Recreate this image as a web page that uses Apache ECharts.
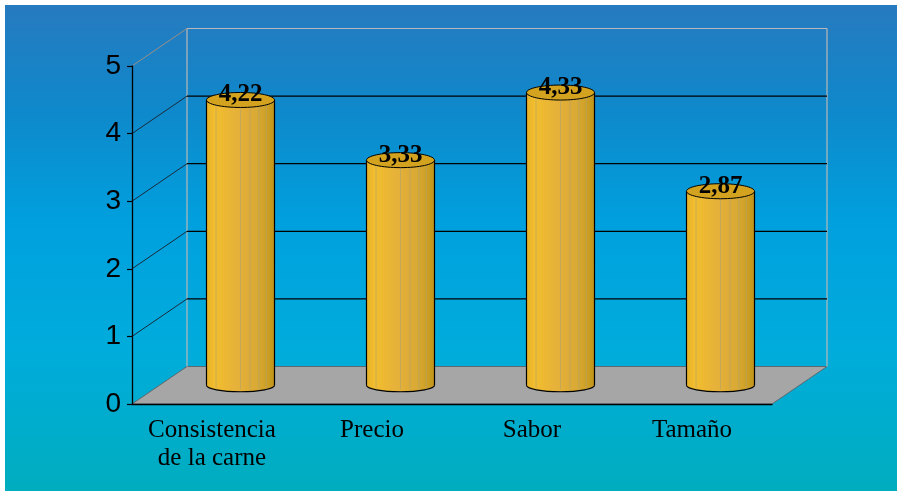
<!DOCTYPE html>
<html>
<head>
<meta charset="utf-8">
<script src="https://cdn.jsdelivr.net/npm/echarts@6/dist/echarts.min.js"></script>
<style>
  html, body { margin: 0; padding: 0; background: #ffffff; }
  #chart { width: 897px; height: 491px; }
</style>
</head>
<body>
<div id="chart"></div>
<script>
// Puntuaciones medias por atributo
const categories = ['Consistencia\nde la carne', 'Precio', 'Sabor', 'Tamaño'];
const scores = [4.22, 3.33, 4.33, 2.87];
const yTicks = [0, 1, 2, 3, 4, 5];

// Pseudo-3D depth of the plot box (screen offset from front plane to back wall)
const DEPTH_X = 55;
const DEPTH_Y = -37.5;

const chart = echarts.init(document.getElementById('chart'));

function fmt(v) {
  return v.toFixed(2).replace('.', ',');
}

// Back wall, floor and receding gridlines
function renderFrame(params, api) {
  const cs = params.coordSys;
  const v = api.value(1);
  const y = api.coord([0, v])[1];
  const left = cs.x;
  const right = cs.x + cs.width;
  const children = [];
  if (v === yTicks[0]) {
    const yTop = api.coord([0, yTicks[yTicks.length - 1]])[1];
    children.push({
      type: 'polygon',
      shape: { points: [[left, y], [left + DEPTH_X, y + DEPTH_Y], [right + DEPTH_X, y + DEPTH_Y], [right, y]] },
      style: { fill: '#a6a6a6', stroke: '#5e6a70', lineWidth: 1 }
    });
    children.push({
      type: 'line',
      shape: { x1: left + DEPTH_X, y1: y + DEPTH_Y, x2: left + DEPTH_X, y2: yTop + DEPTH_Y },
      style: { stroke: '#b9b9b9', lineWidth: 1.2 }
    });
    children.push({
      type: 'line',
      shape: { x1: right + DEPTH_X, y1: y + DEPTH_Y, x2: right + DEPTH_X, y2: yTop + DEPTH_Y },
      style: { stroke: '#b9b9b9', lineWidth: 1.2 }
    });
  } else {
    const isTop = v === yTicks[yTicks.length - 1];
    children.push({
      type: 'line',
      shape: { x1: left, y1: y, x2: left + DEPTH_X, y2: y + DEPTH_Y },
      style: { stroke: isTop ? '#9a8f86' : '#1a2a3a', lineWidth: 1 }
    });
    children.push({
      type: 'line',
      shape: { x1: left + DEPTH_X, y1: y + DEPTH_Y, x2: right + DEPTH_X, y2: y + DEPTH_Y },
      style: { stroke: isTop ? '#b9b9b9' : '#000000', lineWidth: isTop ? 1.2 : 1.3 }
    });
  }
  return { type: 'group', children: children };
}

const bodyFill = {
  type: 'linear', x: 0, y: 0, x2: 1, y2: 0,
  colorStops: [
    { offset: 0, color: '#e6b22a' },
    { offset: 0.12, color: '#f2be2d' },
    { offset: 0.45, color: '#e5b13a' },
    { offset: 0.75, color: '#d8a934' },
    { offset: 0.9, color: '#cc9f22' },
    { offset: 1, color: '#bf9419' }
  ]
};

// Cylinders standing mid-depth on the floor
function renderCylinder(params, api) {
  const idx = api.value(0);
  const val = api.value(1);
  const base = api.coord([idx, 0]);
  const top = api.coord([idx, val]);
  const band = api.size([1, 0])[0];
  const rx = band * 0.425 / 2;
  const ry = 7.5;
  const cx = base[0] + DEPTH_X / 2 + 1;
  const yb = base[1] + DEPTH_Y / 2;
  const yt = top[1] + DEPTH_Y / 2;
  const children = [
    { type: 'ellipse', shape: { cx: cx, cy: yb, rx: rx, ry: 6.5 },
      style: { fill: bodyFill, stroke: '#000', lineWidth: 1.2 } },
    { type: 'rect', shape: { x: cx - rx, y: yt, width: rx * 2, height: yb - yt },
      style: { fill: bodyFill } }
  ];
  [0.14, 0.5, 0.64, 0.77, 0.88].forEach(function (f) {
    children.push({
      type: 'line',
      shape: { x1: cx - rx + f * 2 * rx, y1: yt, x2: cx - rx + f * 2 * rx, y2: yb + 4 },
      style: { stroke: 'rgba(170,160,120,0.55)', lineWidth: 1 }
    });
  });
  children.push(
    { type: 'line', shape: { x1: cx - rx, y1: yt, x2: cx - rx, y2: yb },
      style: { stroke: '#000', lineWidth: 1.2 } },
    { type: 'line', shape: { x1: cx + rx, y1: yt, x2: cx + rx, y2: yb },
      style: { stroke: '#000', lineWidth: 1.2 } },
    { type: 'ellipse', shape: { cx: cx, cy: yt, rx: rx, ry: ry },
      style: { fill: '#d3a31f', stroke: '#000', lineWidth: 1 } },
    { type: 'text', x: cx, y: yt - 5,
      style: { text: fmt(val), fill: '#000', font: 'bold 25px "Liberation Serif", "Times New Roman", serif',
        align: 'center', verticalAlign: 'middle' } }
  );
  return { type: 'group', children: children };
}

chart.setOption({
  animation: false,
  backgroundColor: '#ffffff',
  graphic: [{
    type: 'rect', left: 5, top: 5, z: -100, silent: true,
    shape: { width: 892, height: 486 },
    style: {
      fill: {
        type: 'linear', x: 0, y: 0, x2: 0, y2: 1,
        colorStops: [
          { offset: 0, color: '#277abf' },
          { offset: 0.22, color: '#0e89cb' },
          { offset: 0.45, color: '#00a0de' },
          { offset: 0.7, color: '#00acdc' },
          { offset: 1, color: '#00adbe' }
        ]
      }
    }
  }],
  grid: { left: 132, right: 125, top: 66, bottom: 87 },
  xAxis: {
    type: 'category',
    data: categories,
    z: 5,
    axisLine: { lineStyle: { color: '#000', width: 1.3 } },
    axisTick: { length: 5, lineStyle: { color: '#000', width: 1.2 } },
    axisLabel: {
      color: '#000', fontFamily: '"Liberation Serif", "Times New Roman", serif',
      fontSize: 25, lineHeight: 28, margin: 12, interval: 0
    }
  },
  yAxis: {
    type: 'value',
    min: 0, max: 5, interval: 1,
    z: 5,
    axisLine: { show: true, lineStyle: { color: '#000', width: 1.3 } },
    axisTick: { show: true, length: 5, lineStyle: { color: '#000', width: 1.2 } },
    splitLine: { show: false },
    axisLabel: {
      color: '#000', fontFamily: '"Liberation Sans", Arial, sans-serif',
      fontSize: 28, margin: 11
    }
  },
  series: [
    {
      type: 'custom',
      name: 'marco',
      z: 1,
      silent: true,
      renderItem: renderFrame,
      data: yTicks.map(function (v) { return [0, v]; })
    },
    {
      type: 'custom',
      name: 'puntuación',
      z: 3,
      renderItem: renderCylinder,
      data: scores.map(function (v, i) { return [i, v]; })
    }
  ]
});
</script>
</body>
</html>
